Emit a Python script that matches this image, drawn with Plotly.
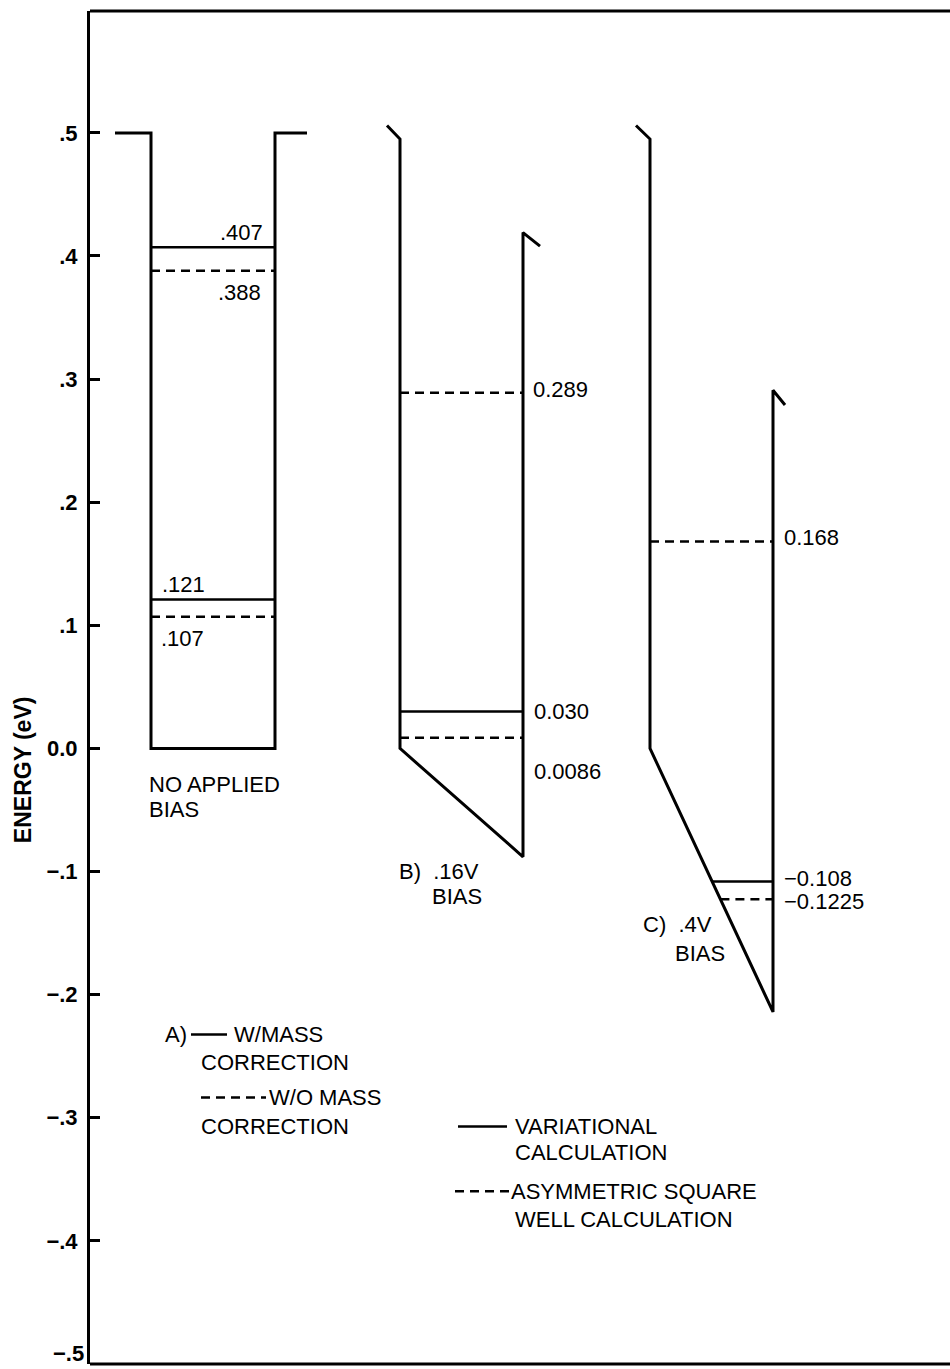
import plotly.graph_objects as go

# ---- energy axis ---------------------------------------------------------
TICK_VALUES = [0.5, 0.4, 0.3, 0.2, 0.1, 0.0, -0.1, -0.2, -0.3, -0.4, -0.5]
TICK_LABELS = [".5", ".4", ".3", ".2", ".1", "0.0", "\u2212.1", "\u2212.2", "\u2212.3", "\u2212.4", "\u2212.5"]
Y_RANGE = [-0.5, 0.599]
X_RANGE = [0.02, 8.62]

# ---- well profiles (x in arbitrary position units, y in eV) --------------
WELL_NAMES = ["A", "B", "C"]
PROFILE_X = {
    "A": [0.27, 0.63, 0.63, 1.87, 1.87, 2.19],
    "B": [2.99, 3.12, 3.12, 4.35, 4.35, 4.52],
    "C": [5.48, 5.62, 5.62, 6.85, 6.85, 6.97],
}
PROFILE_Y = {
    "A": [0.500, 0.500, 0.000, 0.000, 0.500, 0.500],
    "B": [0.506, 0.495, 0.000, -0.088, 0.419, 0.408],
    "C": [0.506, 0.495, 0.000, -0.214, 0.291, 0.279],
}

# ---- bound-state energies (eV) -------------------------------------------
SOLID_LEVELS = {"A": [0.407, 0.121], "B": [0.030], "C": [-0.108]}
DASHED_LEVELS = {"A": [0.388, 0.107], "B": [0.289, 0.0086], "C": [0.168, -0.1225]}

LEVEL_LABELS = {
    "A": [".407", ".388", ".121", ".107"],
    "B": ["0.289", "0.030", "0.0086"],
    "C": ["0.168", "\u22120.108", "\u22120.1225"],
}

CAPTIONS = {
    "A": ["NO APPLIED", "BIAS"],
    "B": ["B)  .16V", "BIAS"],
    "C": ["C)  .4V", "BIAS"],
}

FONT = "Liberation Sans, Arial, Helvetica, sans-serif"
INK = "black"


def floor_at(name, e):
    """Left end of a level: the left wall, or the sloped floor below 0 eV."""
    xs, ys = PROFILE_X[name], PROFILE_Y[name]
    left, right = xs[2], xs[3]
    f_left, f_right = ys[2], ys[3]
    if e >= f_left or f_right == f_left:
        return left
    t = (e - f_left) / (f_right - f_left)
    return left + t * (right - left)


fig = go.Figure()

# well outlines
for name in WELL_NAMES:
    fig.add_trace(go.Scatter(
        x=PROFILE_X[name], y=PROFILE_Y[name], mode="lines",
        line=dict(color=INK, width=3), hoverinfo="skip", showlegend=False,
    ))

# energy levels
for name in WELL_NAMES:
    right = PROFILE_X[name][3]
    for e in SOLID_LEVELS[name]:
        fig.add_trace(go.Scatter(
            x=[floor_at(name, e), right], y=[e, e], mode="lines",
            line=dict(color=INK, width=2.5), hoverinfo="skip", showlegend=False,
        ))
    for e in DASHED_LEVELS[name]:
        fig.add_trace(go.Scatter(
            x=[floor_at(name, e), right], y=[e, e], mode="lines",
            line=dict(color=INK, width=2.5, dash="9px,6px"),
            hoverinfo="skip", showlegend=False,
        ))

annotations = []


def label(text, x, y, size=22, xanchor="left", yanchor="middle", yshift=0, **kw):
    annotations.append(dict(
        text=text, x=x, y=y, xref="x", yref="y", showarrow=False,
        xanchor=xanchor, yanchor=yanchor, yshift=yshift, borderpad=0,
        font=dict(family=FONT, size=size, color=INK), **kw,
    ))


# well A level labels (inside the well)
a_solid, a_dashed = SOLID_LEVELS["A"], DASHED_LEVELS["A"]
label(LEVEL_LABELS["A"][0], 1.76, a_solid[0], xanchor="right", yanchor="bottom", yshift=1)
label(LEVEL_LABELS["A"][1], 1.74, a_dashed[0], xanchor="right", yanchor="top", yshift=-8)
label(LEVEL_LABELS["A"][2], 0.73, a_solid[1], yanchor="bottom", yshift=1)
label(LEVEL_LABELS["A"][3], 0.72, a_dashed[1], yanchor="top", yshift=-8)

# well B level labels (right of the well)
label(LEVEL_LABELS["B"][0], 4.44, DASHED_LEVELS["B"][0], yshift=3)
label(LEVEL_LABELS["B"][1], 4.45, SOLID_LEVELS["B"][0])
label(LEVEL_LABELS["B"][2], 4.45, DASHED_LEVELS["B"][1], yshift=-34)

# well C level labels
label(LEVEL_LABELS["C"][0], 6.95, DASHED_LEVELS["C"][0], yshift=4)
label(LEVEL_LABELS["C"][1], 6.95, SOLID_LEVELS["C"][0], yshift=3)
label(LEVEL_LABELS["C"][2], 6.95, DASHED_LEVELS["C"][1], yshift=-2)

# captions under each well
caption_pos = {
    "A": [(0.60, -0.0290), (0.60, -0.0495)],
    "B": [(3.10, -0.1000), (3.43, -0.1205)],
    "C": [(5.54, -0.1430), (5.86, -0.1665)],
}
for name in WELL_NAMES:
    for text, (x, y) in zip(CAPTIONS[name], caption_pos[name]):
        label(text, x, y)

# key
label("A)", 0.76, -0.2324)
label("W/MASS", 1.45, -0.2324)
label("CORRECTION", 1.12, -0.2551)
label("W/O MASS", 1.80, -0.2835)
label("CORRECTION", 1.12, -0.3070)
label("VARIATIONAL", 4.26, -0.3070)
label("CALCULATION", 4.26, -0.3281)
label("ASYMMETRIC SQUARE", 4.22, -0.3597)
label("WELL CALCULATION", 4.26, -0.3824)

key_samples = [
    ([1.03, 1.39], -0.2324, "solid"),
    ([1.13, 1.78], -0.2835, "9px,6px"),
    ([3.70, 4.19], -0.3070, "solid"),
    ([3.67, 4.21], -0.3597, "9px,6px"),
]
for xs, y, dash in key_samples:
    fig.add_trace(go.Scatter(
        x=xs, y=[y, y], mode="lines", line=dict(color=INK, width=2.5, dash=dash),
        hoverinfo="skip", showlegend=False,
    ))

# the lowest tick label sits on the bottom edge, so it is set just above it
axis_ticktext = TICK_LABELS[:-1] + [""]
annotations.append(dict(
    text=TICK_LABELS[-1], xref="paper", yref="y", x=0, y=TICK_VALUES[-1],
    xanchor="right", yanchor="bottom", xshift=-5, yshift=-3, showarrow=False,
    borderpad=0, font=dict(family=FONT, size=22, color=INK, weight="bold"),
))

# axis title
annotations.append(dict(
    text="ENERGY (eV)", xref="paper", yref="y", x=-0.077, y=-0.017,
    textangle=-90, showarrow=False, xanchor="center", yanchor="middle",
    font=dict(family=FONT, size=23, color=INK, weight="bold"),
))

# top and bottom frame lines (the frame is open on the right)
frame = [
    dict(type="line", xref="paper", yref="paper", x0=0, x1=1, y0=1, y1=1,
         line=dict(color=INK, width=3)),
    dict(type="line", xref="paper", yref="paper", x0=0, x1=1, y0=0, y1=0,
         line=dict(color=INK, width=3)),
]

fig.update_layout(
    width=950, height=1369,
    margin=dict(l=90, r=0, t=11, b=5, autoexpand=False),
    paper_bgcolor="white", plot_bgcolor="white",
    showlegend=False, hovermode=False,
    annotations=annotations, shapes=frame,
    xaxis=dict(
        range=X_RANGE, showline=False, showgrid=False, zeroline=False,
        showticklabels=False, ticks="", fixedrange=True, automargin=False,
    ),
    yaxis=dict(
        range=Y_RANGE, showline=True, mirror=False, linecolor=INK, linewidth=3,
        showgrid=False, zeroline=False, automargin=False,
        tickmode="array", tickvals=TICK_VALUES, ticktext=axis_ticktext,
        ticks="inside", ticklen=10, tickwidth=2.5, tickcolor=INK,
        tickfont=dict(family=FONT, size=22, color=INK, weight="bold"),
        ticklabelstandoff=5, ticklabeloverflow="allow", fixedrange=True,
    ),
)

fig.write_html(
    "out.html",
    config={"displayModeBar": False},
    post_script="document.body.style.margin='0';document.body.style.overflow='hidden';",
)
